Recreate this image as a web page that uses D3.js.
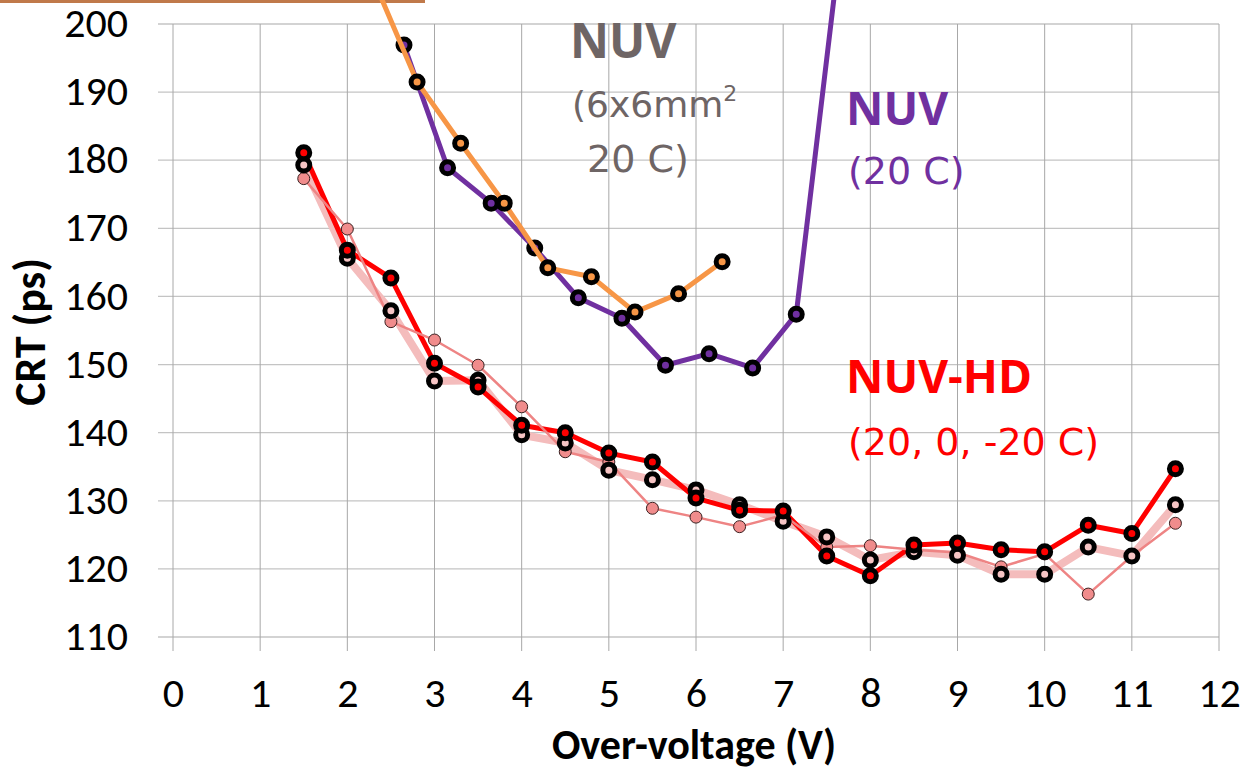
<!DOCTYPE html>
<html>
<head>
<meta charset="utf-8">
<script src="https://cdn.jsdelivr.net/npm/d3@7"></script>
<style>
  body { margin: 0; background: #fff; }
  svg { display: block; }
  .tick text { font-family: Carlito, Calibri, "Open Sans", sans-serif; }
</style>
</head>
<body>
<svg id="chart" width="1248" height="771"></svg>
<script>
// tick labels
const xTicks = [0, 1, 2, 3, 4, 5, 6, 7, 8, 9, 10, 11, 12];
const yTicks = [110, 120, 130, 140, 150, 160, 170, 180, 190, 200];

// NUV 6x6 mm2, 20 C (orange)
const nuv66V = [2.3, 2.8, 3.3, 3.8, 4.3, 4.8, 5.3, 5.8, 6.3];
const nuv66Crt = [206.5, 191.5, 182.5, 173.7, 164.2, 162.9, 157.7, 160.4, 165.1];

// NUV 20 C (purple)
const nuvV = [2.65, 3.15, 3.65, 4.15, 4.65, 5.15, 5.65, 6.15, 6.65, 7.15, 7.65];
const nuvCrt = [196.9, 178.9, 173.7, 167.1, 159.8, 156.8, 149.9, 151.6, 149.5, 157.4, 211];

// NUV-HD, three temperatures
const hdV = [1.5, 2, 2.5, 3, 3.5, 4, 4.5, 5, 5.5, 6, 6.5, 7, 7.5, 8, 8.5, 9, 9.5, 10, 10.5, 11, 11.5];
const hdRed = [181.1, 166.8, 162.7, 150.2, 146.7, 141.1, 140.0, 137.0, 135.7, 130.4, 128.6, 128.5, 121.9, 119.0, 123.5, 123.8, 122.8, 122.5, 126.4, 125.2, 134.7];
const hdPink = [179.3, 165.6, 157.9, 147.6, 147.7, 139.7, 138.5, 134.5, 133.1, 131.6, 129.4, 127.0, 124.7, 121.3, 122.5, 122.0, 119.2, 119.2, 123.2, 121.9, 129.4];
const hdSalmon = [177.3, 169.9, 156.3, 153.6, 149.9, 143.8, 137.2, 135.7, 128.9, 127.6, 126.2, 127.9, 123.2, 123.4, 122.8, 122.4, 120.3, 122.2, 116.3, 121.9, 126.7];

const svg = d3.select("#chart");

const x = d3.scaleLinear().domain([0, 12]).range([173, 1219]);
const y = d3.scaleLinear().domain([110, 200]).range([637, 24]);

// small decoration strip at the top
svg.append("rect").attr("x", 0).attr("y", 0).attr("width", 425).attr("height", 3).attr("fill", "#c0794a");

// grid
const grid = svg.append("g");
grid.selectAll("line.h").data(yTicks).join("line")
  .attr("x1", x(0) - 15).attr("x2", x(12))
  .attr("y1", d => y(d)).attr("y2", d => y(d))
  .attr("stroke", "#c4c4c4").attr("stroke-width", 1.3);
grid.selectAll("line.v").data(xTicks).join("line")
  .attr("x1", d => x(d)).attr("x2", d => x(d))
  .attr("y1", y(200)).attr("y2", y(110) + 14)
  .attr("stroke", "#a8a8a8").attr("stroke-width", 1);

// axes (labels only)
const yAxis = svg.append("g").attr("transform", `translate(${x(0) - 15},0)`)
  .call(d3.axisLeft(y).tickValues(yTicks).tickSize(0).tickPadding(30));
yAxis.select(".domain").remove();
yAxis.selectAll("text").attr("font-size", 42).attr("fill", "#000").attr("dy", "0.3em");

const xAxis = svg.append("g").attr("transform", `translate(0,${y(110)})`)
  .call(d3.axisBottom(x).tickValues(xTicks).tickSize(0).tickPadding(40));
xAxis.select(".domain").remove();
xAxis.selectAll("text").attr("font-size", 42).attr("fill", "#000");

svg.append("text")
  .attr("x", 694).attr("y", 759)
  .attr("text-anchor", "middle")
  .attr("font-family", "Carlito, Calibri, 'Open Sans', sans-serif")
  .attr("font-weight", "bold").attr("font-size", 42)
  .text("Over-voltage (V)");

svg.append("text")
  .attr("transform", "translate(45,332) rotate(-90)")
  .attr("text-anchor", "middle")
  .attr("font-family", "Carlito, Calibri, 'Open Sans', sans-serif")
  .attr("font-weight", "bold").attr("font-size", 44)
  .text("CRT (ps)");

// data
svg.append("clipPath").attr("id", "clip")
  .append("rect").attr("x", x(0)).attr("y", 0).attr("width", x(12) - x(0)).attr("height", y(110));

const plot = svg.append("g").attr("clip-path", "url(#clip)");

function pts(vs, cs) { return vs.map((v, i) => ({ v: v, c: cs[i] })); }

const line = d3.line().x(d => x(d.v)).y(d => y(d.c));

function drawLine(data, color, width) {
  plot.append("path").datum(data)
    .attr("fill", "none").attr("stroke", color).attr("stroke-width", width)
    .attr("stroke-linejoin", "round").attr("d", line);
}

function ringMarkers(data, center) {
  plot.append("g").selectAll("circle").data(data).join("circle")
    .attr("cx", d => x(d.v)).attr("cy", d => y(d.c)).attr("r", 6)
    .attr("fill", center).attr("stroke", "#000").attr("stroke-width", 5);
}

const orange = pts(nuv66V, nuv66Crt);
const purple = pts(nuvV, nuvCrt);
const red = pts(hdV, hdRed);
const pink = pts(hdV, hdPink);
const salmon = pts(hdV, hdSalmon);

drawLine(purple, "#7030a0", 5);
ringMarkers(purple, "#7030a0");
drawLine(orange, "#f79646", 5);
ringMarkers(orange, "#f79646");

drawLine(pink, "#f4bcbc", 8);
drawLine(red, "#ff0000", 5);
drawLine(salmon, "#ee8484", 2.5);

plot.append("g").selectAll("circle").data(salmon).join("circle")
  .attr("cx", d => x(d.v)).attr("cy", d => y(d.c)).attr("r", 6)
  .attr("fill", "#f08c8c").attr("stroke", "#3a2020").attr("stroke-width", 1);
ringMarkers(pink, "#f6c4c4");
ringMarkers(red, "#ff0000");

// annotations
const bold = "'Open Sans', 'Noto Sans', sans-serif";
const plain = "'DejaVu Sans', 'Open Sans', sans-serif";
const note = svg.append("g");

note.append("text").attr("x", 570).attr("y", 58).attr("font-family", bold)
  .attr("font-size", 48).attr("font-weight", "bold").attr("fill", "#6e6565").text("NUV");
const t66 = note.append("text").attr("x", 572).attr("y", 117).attr("font-family", plain)
  .attr("font-size", 36).attr("fill", "#6e6565");
t66.append("tspan").text("(6x6mm");
t66.append("tspan").attr("font-size", 22).attr("dy", -16).text("2");
note.append("text").attr("x", 587).attr("y", 172).attr("font-family", plain)
  .attr("font-size", 38).attr("fill", "#6e6565").text("20 C)");

note.append("text").attr("x", 846).attr("y", 125).attr("font-family", bold)
  .attr("font-size", 46).attr("font-weight", "bold").attr("fill", "#7030a0").text("NUV");
note.append("text").attr("x", 848).attr("y", 184).attr("font-family", plain)
  .attr("font-size", 38).attr("fill", "#7030a0").text("(20 C)");

note.append("text").attr("x", 846).attr("y", 393).attr("font-family", bold)
  .attr("font-size", 46).attr("font-weight", "bold").attr("fill", "#ff0000").text("NUV-HD");
note.append("text").attr("x", 848).attr("y", 455).attr("font-family", plain)
  .attr("font-size", 38).attr("fill", "#ff0000").text("(20, 0, -20 C)");
</script>
</body>
</html>
